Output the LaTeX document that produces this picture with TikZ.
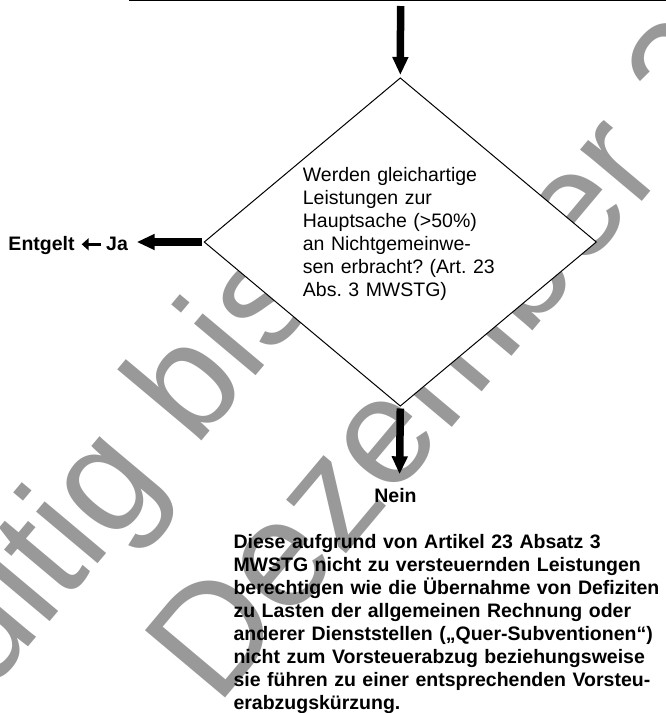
\documentclass[tikz,border=0pt]{standalone}
\usepackage{fontspec}
\setmainfont{Liberation Sans}
\usetikzlibrary{shapes.geometric,arrows.meta}
\definecolor{wmgray}{gray}{0.6}
\frenchspacing
\begin{document}
\begin{tikzpicture}[x=1pt,y=-1pt,
  fatarrow/.style={line width=7.5pt,-{Triangle[length=18pt,width=15pt]}},
  smallarrow/.style={line width=3.4pt,-{Triangle[length=7pt,width=12pt]}},
  qtext/.style={inner sep=0pt,anchor=base west,align=left,font=\fontsize{19.5}{23}\selectfont},
  btext/.style={inner sep=0pt,anchor=base west,align=left,font=\fontsize{19.5}{23}\selectfont\bfseries},
  wmark/.style={inner sep=0pt,anchor=base west,rotate=50,text=wmgray,font=\fontsize{152}{160}\selectfont}]
\useasboundingbox (0,0) rectangle (666,713);
\clip (0,0) rectangle (666,713);
% watermark
\node[wmark] (wm1) at (-65.7,759.1) {gültig bis};
\node[wmark] (wm2) at (54.3,901.7) {31. Dezember 2009};
% top rule
\coordinate (ruleL) at (129,0.7);
\coordinate (ruleR) at (666,0.7);
\draw[line width=1.3pt] (ruleL) -- (ruleR);
% decision
\node[diamond,draw,fill=white,line width=1pt,minimum width=392pt,minimum height=328pt,inner sep=0pt,outer sep=0pt] (q) at (400.3,242) {};
\node[qtext,text width=292pt] (qt) at (302.7,181.7) {Werden gleichartige\\Leistungen zur\\Hauptsache (>50\%)\\an Nichtgemeinwe-\\sen erbracht? (Art. 23\\Abs. 3 MWSTG)};
% top arrow
\coordinate (topstart) at (400.6,6);
\draw[fatarrow,shorten >=3pt] (topstart) -- (q.north);
% left arrow
\coordinate (jatip) at (136.7,242);
\draw[fatarrow,shorten <=2pt] (q.west) -- (jatip);
\node[btext] (ent) at (8.3,250.7) {Entgelt};
\node[btext] (ja) at (106,250.7) {Ja};
\coordinate (sa1) at (100.5,244.3);
\coordinate (sa2) at (81.7,244.3);
\draw[smallarrow] (sa1) -- (sa2);
% down arrow
\coordinate (neintip) at (399.6,474.3);
\draw[fatarrow,shorten <=2.5pt] (q.south) -- (neintip);
\node[btext,anchor=base] (nein) at (395.5,502.7) {Nein};
% paragraph
\node[btext,text width=440pt] (para) at (233.3,548.3) {Diese aufgrund von Artikel 23 Absatz 3\\MWSTG nicht zu versteuernden Leistungen\\berechtigen wie die Übernahme von Defiziten\\zu Lasten der allgemeinen Rechnung oder\\anderer Dienststellen („Quer-Subventionen“)\\nicht zum Vorsteuerabzug beziehungsweise\\sie führen zu einer entsprechenden Vorsteu-\\erabzugskürzung.};
\end{tikzpicture}
\end{document}
